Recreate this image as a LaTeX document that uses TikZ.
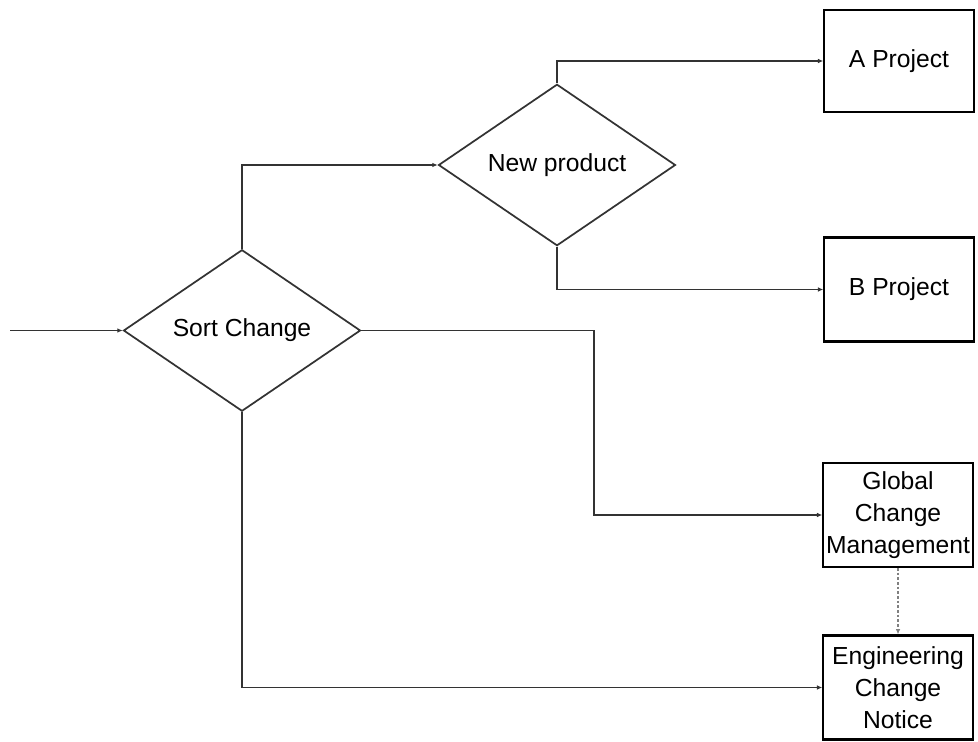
\documentclass[tikz,border=0pt]{standalone}
\usepackage{fontspec}
\setmainfont{Liberation Sans}
\usetikzlibrary{shapes.geometric,arrows.meta}
\definecolor{lncol}{HTML}{333333}
\begin{document}
\begin{tikzpicture}[x=0.75pt,y=-0.75pt,
  every node/.style={font=\fontsize{18.5}{24}\selectfont, text=black},
  decision/.style={diamond, draw=lncol, line width=1.3pt, minimum width=177.75pt, minimum height=116.25pt, inner sep=0pt},
  boxnode/.style={rectangle, draw=black, line width=1.6pt, minimum width=112pt, inner sep=0pt, align=center},
  conn/.style={draw=lncol, line width=1.2pt, -{Latex[length=4pt,width=3.5pt]}},
  dotconn/.style={draw=gray, line width=1.2pt, dash pattern=on 2pt off 1.5pt, -{Latex[length=4pt,width=3.5pt]}}]
\useasboundingbox (0,0) rectangle (978,742);
\node[decision] (sort) at (242,330.5) {Sort Change};
\node[decision] (newp) at (557,165) {New product};
\node[boxnode, minimum height=76.5pt] (ap) at (899,61) {A Project};
\node[boxnode, minimum height=78pt] (bp) at (899,289.5) {B Project};
\node[boxnode, minimum height=78pt] (gcm) at (898,515) {Global\\Change\\Management};
\node[boxnode, minimum height=78pt] (ecn) at (898,687.5) {Engineering\\Change\\Notice};
\coordinate (in) at (10,330.5);
\coordinate (j1) at (594,330.5);
\draw[conn] (in) -- (sort.west);
\draw[conn] (sort.north) |- (newp.west);
\draw[conn] (newp.north) |- (ap.west);
\draw[conn] (newp.south) |- (bp.west);
\draw[conn] (sort.east) -- (j1) |- (gcm.west);
\draw[conn] (sort.south) |- (ecn.west);
\draw[dotconn] (gcm.south) -- (ecn.north);
\end{tikzpicture}
\end{document}
